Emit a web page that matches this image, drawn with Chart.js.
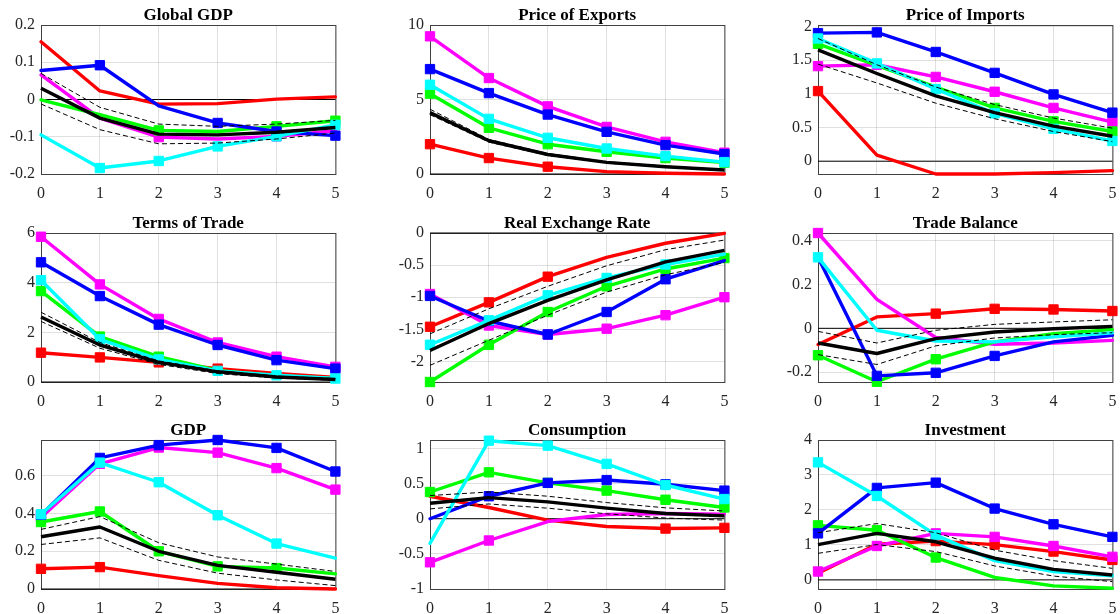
<!DOCTYPE html>
<html><head><meta charset="utf-8">
<script src="https://cdn.jsdelivr.net/npm/chart.js@4/dist/chart.umd.min.js"></script>
<style>
html,body{margin:0;padding:0;background:#fff;overflow:hidden;width:1120px;height:614px}
canvas{position:absolute;display:block}
</style></head><body>
<script>
// ---------- data ----------
const periods = [0, 1, 2, 3, 4, 5];
const zeroLine = [0, 0, 0, 0, 0, 0];
const titles = ['Global GDP', 'Price of Exports', 'Price of Imports', 'Terms of Trade', 'Real Exchange Rate', 'Trade Balance', 'GDP', 'Consumption', 'Investment'];

// y-axis limits and tick labels
const yMin = [-0.2, 0, -0.19, 0, -2.32, -0.245, 0, -1, -0.26];
const yMax = [0.2, 10, 2.02, 6, 0, 0.435, 0.79, 1.12, 4];
const ggTicks = [-0.2, -0.1, 0, 0.1, 0.2];
const peTicks = [0, 5, 10];
const piTicks = [0, 0.5, 1, 1.5, 2];
const totTicks = [0, 2, 4, 6];
const rerTicks = [-2, -1.5, -1, -0.5, 0];
const tbTicks = [-0.2, 0, 0.2, 0.4];
const gdpTicks = [0, 0.2, 0.4, 0.6];
const consTicks = [-1, -0.5, 0, 0.5, 1];
const invTicks = [0, 1, 2, 3, 4];

// Global GDP
const ggRed = [0.155, 0.023, -0.0125, -0.011, 0.001, 0.007];
const ggMag = [0.066, -0.05, -0.101, -0.106, -0.099, -0.084];
const ggGreen = [-0.001, -0.041, -0.083, -0.086, -0.072, -0.057];
const ggBlue = [0.078, 0.092, -0.017, -0.063, -0.086, -0.097];
const ggCyan = [-0.095, -0.184, -0.165, -0.126, -0.099, -0.068];
const ggBlack = [0.03, -0.05, -0.093, -0.095, -0.088, -0.075];
const ggHi = [0.07, -0.021, -0.066, -0.072, -0.066, -0.056];
const ggLo = [-0.012, -0.081, -0.119, -0.117, -0.106, -0.09];
const ggRedM = [], ggMagM = [2, 4], ggGreenM = [2, 4, 5], ggBlueM = [1, 3, 4, 5], ggCyanM = [1, 2, 3, 4, 5];

// Price of Exports
const peRed = [2.0, 1.07, 0.49, 0.16, 0.05, 0.0];
const peMag = [9.24, 6.44, 4.54, 3.16, 2.16, 1.43];
const peGreen = [5.39, 3.1, 2.0, 1.49, 1.07, 0.76];
const peBlue = [7.04, 5.43, 3.99, 2.83, 1.94, 1.34];
const peCyan = [5.99, 3.7, 2.43, 1.71, 1.2, 0.8];
const peBlack = [4.12, 2.23, 1.31, 0.78, 0.49, 0.27];
const peHi = [4.35, 2.32, 1.38, 0.83, 0.53, 0.3];
const peLo = [3.98, 2.14, 1.24, 0.73, 0.45, 0.24];
const peRedM = [0, 1, 2], peMagM = [0, 1, 2, 3, 4, 5], peGreenM = [0, 1, 2, 3, 4, 5], peBlueM = [0, 1, 2, 3, 4, 5], peCyanM = [0, 1, 2, 3, 4, 5];

// Price of Imports
const piRed = [1.04, 0.09, -0.19, -0.19, -0.17, -0.14];
const piMag = [1.41, 1.43, 1.25, 1.03, 0.79, 0.58];
const piGreen = [1.74, 1.42, 1.1, 0.79, 0.59, 0.44];
const piBlue = [1.9, 1.91, 1.62, 1.31, 0.99, 0.72];
const piCyan = [1.82, 1.45, 1.07, 0.71, 0.48, 0.30];
const piBlack = [1.65, 1.3, 0.97, 0.72, 0.52, 0.37];
const piHi = [1.82, 1.43, 1.1, 0.84, 0.64, 0.49];
const piLo = [1.44, 1.16, 0.86, 0.63, 0.44, 0.29];
const piRedM = [0], piMagM = [0, 1, 2, 3, 4, 5], piGreenM = [0, 3, 4, 5], piBlueM = [0, 1, 2, 3, 4, 5], piCyanM = [0, 1, 2, 3, 4, 5];

// Terms of Trade
const totRed = [1.18, 0.99, 0.79, 0.54, 0.34, 0.18];
const totMag = [5.85, 3.93, 2.54, 1.59, 1.02, 0.61];
const totGreen = [3.66, 1.83, 1.02, 0.47, 0.24, 0.14];
const totBlue = [4.82, 3.46, 2.31, 1.49, 0.88, 0.54];
const totCyan = [4.1, 1.72, 0.91, 0.45, 0.27, 0.14];
const totBlack = [2.62, 1.49, 0.79, 0.41, 0.2, 0.1];
const totHi = [2.81, 1.59, 0.85, 0.45, 0.24, 0.14];
const totLo = [2.44, 1.36, 0.71, 0.34, 0.16, 0.07];
const totRedM = [0, 1, 2, 3], totMagM = [0, 1, 2, 3, 4, 5], totGreenM = [0, 1, 2], totBlueM = [0, 1, 2, 3, 4, 5], totCyanM = [0, 1, 2, 3, 4, 5];

// Real Exchange Rate
const rerRed = [-1.46, -1.08, -0.68, -0.38, -0.16, -0.005];
const rerMag = [-0.95, -1.44, -1.58, -1.49, -1.28, -1.0];
const rerGreen = [-2.32, -1.74, -1.23, -0.83, -0.56, -0.39];
const rerBlue = [-0.98, -1.37, -1.58, -1.23, -0.72, -0.43];
const rerCyan = [-1.74, -1.36, -0.97, -0.7, -0.49, -0.33];
const rerBlack = [-1.83, -1.41, -1.05, -0.73, -0.45, -0.27];
const rerHi = [-1.57, -1.18, -0.83, -0.51, -0.26, -0.11];
const rerLo = [-2.06, -1.67, -1.28, -0.92, -0.65, -0.46];
const rerRedM = [0, 1, 2], rerMagM = [0, 1, 2, 3, 4, 5], rerGreenM = [0, 1, 2, 3, 4, 5], rerBlueM = [0, 1, 2, 3, 4], rerCyanM = [0, 1, 2, 3, 4];

// Trade Balance
const tbRed = [-0.074, 0.052, 0.067, 0.089, 0.086, 0.079];
const tbMag = [0.435, 0.132, -0.042, -0.073, -0.067, -0.055];
const tbGreen = [-0.123, -0.244, -0.141, -0.062, -0.024, -0.006];
const tbBlue = [0.324, -0.217, -0.203, -0.126, -0.062, -0.032];
const tbCyan = [0.324, -0.009, -0.058, -0.062, -0.039, -0.021];
const tbBlack = [-0.067, -0.115, -0.047, -0.017, -0.002, 0.009];
const tbHi = [-0.014, -0.067, -0.009, 0.018, 0.029, 0.039];
const tbLo = [-0.12, -0.165, -0.08, -0.044, -0.029, -0.02];
const tbRedM = [2, 3, 4, 5], tbMagM = [0], tbGreenM = [0, 1, 2], tbBlueM = [1, 2, 3], tbCyanM = [0];

// GDP
const gdpRed = [0.107, 0.116, 0.071, 0.03, 0.007, 0.0];
const gdpMag = [0.379, 0.664, 0.75, 0.723, 0.641, 0.527];
const gdpGreen = [0.355, 0.411, 0.2, 0.12, 0.111, 0.08];
const gdpBlue = [0.393, 0.695, 0.763, 0.79, 0.748, 0.623];
const gdpCyan = [0.396, 0.67, 0.566, 0.391, 0.241, 0.164];
const gdpBlack = [0.277, 0.329, 0.2, 0.125, 0.089, 0.052];
const gdpHi = [0.316, 0.384, 0.245, 0.17, 0.132, 0.093];
const gdpLo = [0.236, 0.271, 0.152, 0.084, 0.048, 0.018];
const gdpRedM = [0, 1], gdpMagM = [0, 1, 2, 3, 4, 5], gdpGreenM = [0, 1, 2, 3, 4], gdpBlueM = [0, 1, 2, 3, 4, 5], gdpCyanM = [0, 1, 2, 3, 4];

// Consumption
const consRed = [0.32, 0.16, -0.02, -0.11, -0.14, -0.13];
const consMag = [-0.62, -0.31, -0.04, 0.06, 0.075, 0.066];
const consGreen = [0.38, 0.66, 0.51, 0.4, 0.27, 0.16];
const consBlue = [0.0, 0.32, 0.51, 0.55, 0.49, 0.4];
const consCyan = [-0.35, 1.11, 1.04, 0.78, 0.48, 0.28];
const consBlack = [0.22, 0.3, 0.24, 0.15, 0.075, 0.04];
const consHi = [0.33, 0.38, 0.32, 0.23, 0.155, 0.11];
const consLo = [0.14, 0.21, 0.15, 0.07, 0.01, -0.02];
const consRedM = [4, 5], consMagM = [0, 1], consGreenM = [0, 1, 2, 3, 4, 5], consBlueM = [1, 2, 3, 4, 5], consCyanM = [1, 2, 3, 4, 5];

// Investment
const invRed = [0.19, 1.02, 1.11, 1.01, 0.81, 0.57];
const invMag = [0.24, 0.97, 1.33, 1.23, 0.97, 0.66];
const invGreen = [1.56, 1.42, 0.64, 0.07, -0.17, -0.24];
const invBlue = [1.33, 2.63, 2.78, 2.04, 1.59, 1.23];
const invCyan = [3.36, 2.4, 1.28, 0.55, 0.24, 0.12];
const invBlack = [1.01, 1.33, 1.09, 0.62, 0.3, 0.14];
const invHi = [1.35, 1.61, 1.35, 0.85, 0.55, 0.33];
const invLo = [0.76, 1.01, 0.81, 0.4, 0.11, -0.05];
const invRedM = [2, 3, 4, 5], invMagM = [0, 1, 2, 3, 4, 5], invGreenM = [0, 1, 2], invBlueM = [0, 1, 2, 3, 4, 5], invCyanM = [0, 1, 2];

// ---------- layout / style ----------
const colLeft = [41, 430, 818];
const rowTop = [25, 233, 440];
const plotW = 295, plotH = 149;
const axisW = 41, titleH = 24, xAxisH = 30, padR = 7;
const gridColor = 'rgba(0,0,0,0.12)';
const tickColor = '#262626';
const tickFont = { family: 'Liberation Serif', size: 16 };
const C = { red: '#ff0000', mag: '#ff00ff', green: '#00ff00', blue: '#0000ff', cyan: '#00ffff', black: '#000000' };

const boxPlugin = {
  id: 'axbox',
  beforeDatasetsDraw(chart) {
    const { ctx, chartArea: a } = chart;
    ctx.save();
    ctx.strokeStyle = '#404040';
    ctx.lineWidth = 1;
    ctx.strokeRect(a.left + 0.5, a.top + 0.5, a.right - a.left, a.bottom - a.top);
    ctx.restore();
  }
};

function colored(data, marks, color, order) {
  return {
    data, order, borderColor: color, backgroundColor: color, borderWidth: 3.4,
    borderJoinStyle: 'round', borderCapStyle: 'round',
    pointStyle: 'rect', pointRadius: periods.map(p => marks.includes(p) ? 6.6 : 0),
    pointBorderWidth: 1, pointBackgroundColor: color, pointBorderColor: color,
    tension: 0, clip: 10
  };
}
function plain(data, width, dash, order) {
  return { data, order, borderColor: '#000', backgroundColor: '#000', borderWidth: width,
    borderDash: dash, pointRadius: 0, tension: 0, clip: 10, borderJoinStyle: 'round' };
}

function panel(i, s, ticks) {
  const col = i % 3, row = Math.floor(i / 3);
  const cv = document.createElement('canvas');
  const w = axisW + plotW + padR, h = titleH + plotH + xAxisH;
  cv.width = w; cv.height = h;
  cv.style.left = (colLeft[col] - axisW) + 'px';
  cv.style.top = (rowTop[row] - titleH) + 'px';
  cv.style.width = w + 'px'; cv.style.height = h + 'px';
  document.body.appendChild(cv);
  new Chart(cv, {
    type: 'line',
    data: {
      labels: periods.map(String),
      datasets: [
        plain(zeroLine, 1, [], 9),
        colored(s.red, s.redM, C.red, 8),
        colored(s.mag, s.magM, C.mag, 7),
        colored(s.green, s.greenM, C.green, 6),
        colored(s.blue, s.blueM, C.blue, 5),
        colored(s.cyan, s.cyanM, C.cyan, 4),
        plain(s.hi, 1, [5, 3], 3),
        plain(s.lo, 1, [5, 3], 2),
        plain(s.black, 3.4, [], 1)
      ]
    },
    options: {
      responsive: false, animation: false, events: [],
      layout: { padding: { left: 0, right: padR, top: 0, bottom: 0 } },
      plugins: {
        legend: { display: false }, tooltip: { enabled: false },
        title: { display: true, text: titles[i], fullSize: false, color: '#000',
          font: { family: 'Liberation Serif', size: 17, weight: 'bold', lineHeight: 1.0 },
          padding: { top: 6, bottom: 1 } }
      },
      scales: {
        x: {
          type: 'category', offset: false,
          grid: { color: gridColor, drawTicks: false, lineWidth: 1 },
          border: { display: false },
          ticks: { color: tickColor, font: tickFont, padding: 10, maxRotation: 0, autoSkip: false },
          afterFit(sc) { sc.height = xAxisH; sc.paddingLeft = 0; sc.paddingRight = 0; }
        },
        y: {
          type: 'linear', min: yMin[i], max: yMax[i],
          afterBuildTicks(sc) { sc.ticks = ticks.map(v => ({ value: v })); },
          grid: { color: gridColor, drawTicks: false, lineWidth: 1 },
          border: { display: false },
          ticks: { color: tickColor, font: tickFont, padding: 6, autoSkip: false, callback: v => String(v) },
          afterFit(sc) { sc.width = axisW; sc.paddingTop = 0; sc.paddingBottom = 0; }
        }
      }
    },
    plugins: [boxPlugin]
  });
}

panel(0, { red: ggRed, redM: ggRedM, mag: ggMag, magM: ggMagM, green: ggGreen, greenM: ggGreenM, blue: ggBlue, blueM: ggBlueM, cyan: ggCyan, cyanM: ggCyanM, black: ggBlack, hi: ggHi, lo: ggLo }, ggTicks);
panel(1, { red: peRed, redM: peRedM, mag: peMag, magM: peMagM, green: peGreen, greenM: peGreenM, blue: peBlue, blueM: peBlueM, cyan: peCyan, cyanM: peCyanM, black: peBlack, hi: peHi, lo: peLo }, peTicks);
panel(2, { red: piRed, redM: piRedM, mag: piMag, magM: piMagM, green: piGreen, greenM: piGreenM, blue: piBlue, blueM: piBlueM, cyan: piCyan, cyanM: piCyanM, black: piBlack, hi: piHi, lo: piLo }, piTicks);
panel(3, { red: totRed, redM: totRedM, mag: totMag, magM: totMagM, green: totGreen, greenM: totGreenM, blue: totBlue, blueM: totBlueM, cyan: totCyan, cyanM: totCyanM, black: totBlack, hi: totHi, lo: totLo }, totTicks);
panel(4, { red: rerRed, redM: rerRedM, mag: rerMag, magM: rerMagM, green: rerGreen, greenM: rerGreenM, blue: rerBlue, blueM: rerBlueM, cyan: rerCyan, cyanM: rerCyanM, black: rerBlack, hi: rerHi, lo: rerLo }, rerTicks);
panel(5, { red: tbRed, redM: tbRedM, mag: tbMag, magM: tbMagM, green: tbGreen, greenM: tbGreenM, blue: tbBlue, blueM: tbBlueM, cyan: tbCyan, cyanM: tbCyanM, black: tbBlack, hi: tbHi, lo: tbLo }, tbTicks);
panel(6, { red: gdpRed, redM: gdpRedM, mag: gdpMag, magM: gdpMagM, green: gdpGreen, greenM: gdpGreenM, blue: gdpBlue, blueM: gdpBlueM, cyan: gdpCyan, cyanM: gdpCyanM, black: gdpBlack, hi: gdpHi, lo: gdpLo }, gdpTicks);
panel(7, { red: consRed, redM: consRedM, mag: consMag, magM: consMagM, green: consGreen, greenM: consGreenM, blue: consBlue, blueM: consBlueM, cyan: consCyan, cyanM: consCyanM, black: consBlack, hi: consHi, lo: consLo }, consTicks);
panel(8, { red: invRed, redM: invRedM, mag: invMag, magM: invMagM, green: invGreen, greenM: invGreenM, blue: invBlue, blueM: invBlueM, cyan: invCyan, cyanM: invCyanM, black: invBlack, hi: invHi, lo: invLo }, invTicks);
</script>
</body></html>
